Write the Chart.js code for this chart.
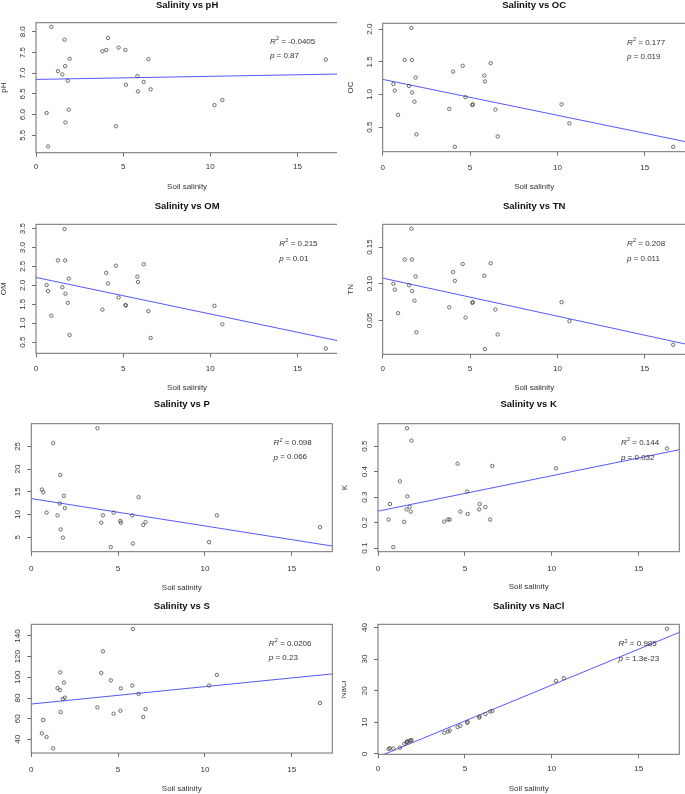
<!DOCTYPE html>
<html>
<head>
<meta charset="utf-8">
<script src="https://cdn.jsdelivr.net/npm/chart.js@4.4.1/dist/chart.umd.min.js"></script>
<style>
  body { margin: 0; background: #fff; width: 685px; height: 794px; position: relative; overflow: hidden; }
  .cell { position: absolute; overflow: hidden; }
  .cell canvas { position: absolute; left: 0; top: 0; }
</style>
</head>
<body>
<script>
// DATA (same 26 soil samples in every panel, sorted by salinity)
const salinity = [0.61, 0.69, 0.88, 1.26, 1.51, 1.64, 1.67, 1.69, 1.82, 1.88, 1.93, 3.81, 4.03, 4.13, 4.58, 4.74, 5.13, 5.16, 5.82, 5.85, 6.18, 6.45, 6.58, 10.24, 10.69, 16.63];
const pH = [6.04, 5.23, 8.12, 7.05, 6.97, 7.81, 7.17, 5.81, 6.82, 6.12, 7.35, 7.53, 7.56, 7.85, 5.72, 7.62, 7.56, 6.72, 6.93, 6.56, 6.79, 7.34, 6.61, 6.23, 6.35, 7.33];
const OC = [1.16, 1.06, 0.69, 1.53, 1.13, 2.02, 1.53, 1.03, 0.89, 1.26, 0.39, 0.78, 1.35, 0.20, 1.44, 0.96, 0.84, 0.85, 1.29, 1.20, 1.48, 0.77, 0.36, 0.85, 0.56, 0.20];
const OM = [2.01, 1.85, 1.20, 2.66, 1.95, 3.49, 2.66, 1.78, 1.54, 2.18, 0.69, 1.36, 2.33, 2.05, 2.52, 1.68, 1.48, 1.47, 2.23, 2.09, 2.56, 1.32, 0.61, 1.46, 0.97, 0.33];
const TN = [0.100, 0.092, 0.060, 0.133, 0.098, 0.175, 0.133, 0.090, 0.077, 0.110, 0.034, 0.068, 0.116, 0.104, 0.127, 0.054, 0.074, 0.075, 0.111, 0.011, 0.128, 0.065, 0.031, 0.075, 0.049, 0.017];
const P = [15.5, 14.9, 10.4, 25.7, 9.8, 12.4, 18.7, 6.7, 4.9, 14.1, 11.4, 29.0, 8.2, 9.8, 2.8, 10.4, 8.6, 8.2, 9.8, 3.6, 13.8, 7.7, 8.3, 3.9, 9.8, 7.2];
const K = [0.212, 0.273, 0.104, 0.362, 0.203, 0.252, 0.570, 0.303, 0.262, 0.243, 0.522, 0.204, 0.212, 0.212, 0.431, 0.243, 0.322, 0.234, 0.252, 0.273, 0.261, 0.212, 0.422, 0.413, 0.530, 0.491];
const S = [45.8, 58.7, 42.3, 31.3, 89.6, 87.7, 104.8, 66.4, 79.0, 94.9, 80.3, 71.0, 104.2, 125.1, 97.1, 64.8, 67.7, 89.3, 92.1, 146.8, 83.9, 61.6, 69.3, 92.1, 102.4, 75.1];
const NaCl = [1.6, 1.8, 1.7, 2.0, 3.2, 3.6, 3.8, 4.0, 4.2, 4.2, 4.4, 6.7, 7.1, 7.4, 8.5, 8.9, 9.9, 10.1, 11.5, 11.9, 12.6, 13.4, 13.6, 23.1, 24.0, 39.6];

const variables = ["pH", "OC", "OM", "TN", "P", "K", "S", "NaCl"];
const series = [pH, OC, OM, TN, P, K, S, NaCl];
const r2Values = ["-0.0405", "0.177", "0.215", "0.208", "0.098", "0.144", "0.0206", "0.985"];
const pValues = ["0.87", "0.019", "0.01", "0.011", "0.066", "0.032", "0.23", "1.3e-23"];
// fitted lines (intercept, slope) as drawn in the figure
const fitIntercept = [6.85, 1.232, 2.21, 0.1077, 13.5, 0.245, 74.2, -0.91];
const fitSlope = [0.0075, -0.055, -0.0966, -0.00518, -0.603, 0.0139, 1.68, 2.27];

// tick labels
const xTicks = [0, 5, 10, 15];
const pHTicks = [5.5, 6.0, 6.5, 7.0, 7.5, 8.0];
const ocTicks = [0.5, 1.0, 1.5, 2.0];
const omTicks = [0.5, 1.0, 1.5, 2.0, 2.5, 3.0, 3.5];
const tnTicks = [0.05, 0.10, 0.15];
const pTicks = [5, 10, 15, 20, 25];
const kTicks = [0.1, 0.2, 0.3, 0.4, 0.5];
const sTicks = [40, 60, 80, 100, 120, 140];
const naclTicks = [0, 10, 20, 30, 40];
const yTicks = [pHTicks, ocTicks, omTicks, tnTicks, pTicks, kTicks, sTicks, naclTicks];
const tickDecimals = [1, 1, 1, 2, 0, 1, 0, 0];

// LAYOUT (page pixels): cell = visible part, box = plot region
const X_MIN = 0, X_MAX = 17.34;
const panelLayout = [
  { cell: [0, 0, 337, 197], box: [36, 22.7, 338.2, 152.7], titleY: 5.5, tickY: 166.7, xTitleY: 187, yTitleX: 4, yRange: [5.08, 8.22], note: [13.42, 7.75, 7.41] },
  { cell: [342, 0, 343, 197], box: [382.7, 23.3, 685.6, 151.7], titleY: 5.5, tickY: 167.7, xTitleY: 187, yTitleX: 351, yRange: [0.125, 2.09], note: [13.98, 1.79, 1.57] },
  { cell: [0, 197, 337, 198], box: [36, 224.3, 338.2, 353.3], titleY: 206, tickY: 368.3, xTitleY: 388, yTitleX: 4, yRange: [0.205, 3.615], note: [13.96, 3.09, 2.71] },
  { cell: [342, 197, 343, 198], box: [382.7, 224.3, 685.6, 354.3], titleY: 206, tickY: 369, xTitleY: 388, yTitleX: 351, yRange: [0.004, 0.181], note: [13.98, 0.154, 0.134] },
  { cell: [0, 395, 342, 200], box: [31.3, 423.7, 332.3, 551.7], titleY: 404.5, tickY: 568.3, xTitleY: 587.7, yTitleX: null, yRange: [1.8, 30.0], note: [13.95, 25.7, 22.6] },
  { cell: [342, 395, 343, 200], box: [378, 423.7, 679.3, 551.7], titleY: 404.5, tickY: 568.3, xTitleY: 586.7, yTitleX: 345, yRange: [0.086, 0.588], note: [13.98, 0.512, 0.455] },
  { cell: [0, 595, 342, 199], box: [31.3, 624.3, 332.3, 753], titleY: 606, tickY: 769.3, xTitleY: 788.3, yTitleX: null, yRange: [26.8, 151.3], note: [13.68, 132.3, 118.5] },
  { cell: [342, 595, 343, 199], box: [378, 624.3, 679.3, 754.3], titleY: 606, tickY: 769, xTitleY: 788.3, yTitleX: 344.2, yRange: [-0.1, 41.0], note: [13.84, 34.7, 30.2] },
];

const FAMILY = "'Liberation Sans', Arial, sans-serif";
const TEXT = "#333";
const AXIS = "#6e6e6e";
const LINE = "rgba(45, 45, 255, 0.8)";
const small = { family: FAMILY, size: 8, lineHeight: 1.2 };
const LH = 8 * 1.2;
const TICK_LEN = 4;

const measure = document.createElement("canvas").getContext("2d");
measure.font = "8px " + FAMILY;

// box, title and R2 / p text
const decoPlugin = (lay, i) => ({
  id: "deco" + i,
  afterDatasetsDraw(chart) {
    const { ctx, chartArea: a, scales } = chart;
    ctx.save();
    ctx.strokeStyle = AXIS;
    ctx.lineWidth = 1;
    ctx.strokeRect(a.left, a.top, a.right - a.left, a.bottom - a.top);

    ctx.fillStyle = "#111";
    ctx.font = "bold 9.5px " + FAMILY;
    ctx.textAlign = "center";
    ctx.textBaseline = "middle";
    ctx.fillText("Salinity vs " + variables[i], (a.left + a.right) / 2, lay.titleY - lay.cell[1]);

    const x0 = scales.x.getPixelForValue(lay.note[0]);
    const yR = scales.y.getPixelForValue(lay.note[1]);
    const yP = scales.y.getPixelForValue(lay.note[2]);
    ctx.fillStyle = TEXT;
    ctx.textAlign = "left";
    ctx.textBaseline = "middle";
    let x = x0;
    ctx.font = "italic 8px " + FAMILY;
    ctx.fillText("R", x, yR);
    x += ctx.measureText("R").width;
    ctx.font = "5.5px " + FAMILY;
    ctx.fillText("2", x + 0.3, yR - 3.2);
    x += ctx.measureText("2").width + 0.3;
    ctx.font = "8px " + FAMILY;
    ctx.fillText(" = " + r2Values[i], x, yR);

    ctx.font = "italic 8px " + FAMILY;
    ctx.fillText("p", x0, yP);
    const px = x0 + ctx.measureText("p").width;
    ctx.font = "8px " + FAMILY;
    ctx.fillText(" = " + pValues[i], px, yP);
    ctx.restore();
  }
});

panelLayout.forEach((lay, i) => {
  const [cx, cy, cw, ch] = lay.cell;
  const canvasW = cw + 12;
  const div = document.createElement("div");
  div.className = "cell";
  div.style.left = cx + "px";
  div.style.top = cy + "px";
  div.style.width = cw + "px";
  div.style.height = ch + "px";
  const canvas = document.createElement("canvas");
  canvas.width = canvasW;
  canvas.height = ch;
  canvas.style.width = canvasW + "px";
  canvas.style.height = ch + "px";
  div.appendChild(canvas);
  document.body.appendChild(div);

  const left = lay.box[0] - cx;
  const top = lay.box[1] - cy;
  const right = cx + canvasW - lay.box[2];
  const bottom = cy + ch - lay.box[3];
  const dec = tickDecimals[i];
  const labels = yTicks[i].map(v => v.toFixed(dec));
  const widest = Math.max(...labels.map(t => measure.measureText(t).width));
  const yPad = 13.3 - TICK_LEN - widest / 2;
  const xPad = lay.tickY - lay.box[3] - TICK_LEN - LH / 2;

  const points = salinity.map((s, k) => ({ x: s, y: series[i][k] }));
  const fit = [X_MIN, X_MAX].map(v => ({ x: v, y: fitIntercept[i] + fitSlope[i] * v }));

  new Chart(canvas, {
    type: "scatter",
    data: {
      datasets: [
        {
          data: points,
          pointStyle: "circle",
          pointRadius: 1.7,
          pointBorderWidth: 0.8,
          pointBorderColor: "#4a4a4a",
          pointBackgroundColor: "rgba(0,0,0,0)",
        },
        {
          data: fit,
          showLine: true,
          borderColor: LINE,
          borderWidth: 1,
          pointRadius: 0,
          fill: false,
        },
      ],
    },
    options: {
      responsive: false,
      animation: false,
      events: [],
      layout: { padding: { top: top, right: right, left: 0, bottom: 0 } },
      plugins: { legend: { display: false }, tooltip: { enabled: false }, title: { display: false } },
      scales: {
        x: {
          type: "linear",
          min: X_MIN,
          max: X_MAX,
          afterFit: (s) => { s.height = bottom; },
          afterBuildTicks: (s) => { s.ticks = xTicks.map(v => ({ value: v })); },
          border: { display: false },
          grid: { drawOnChartArea: false, drawTicks: true, tickLength: TICK_LEN, color: AXIS, lineWidth: 1 },
          ticks: { padding: xPad, font: small, color: TEXT, maxRotation: 0, callback: (v) => String(v) },
          title: { display: true, text: "Soil salinity", font: small, color: TEXT, padding: { top: 0, bottom: cy + ch - lay.xTitleY - LH / 2 } },
        },
        y: {
          type: "linear",
          min: lay.yRange[0],
          max: lay.yRange[1],
          afterFit: (s) => { s.width = left; },
          afterBuildTicks: (s) => { s.ticks = yTicks[i].map(v => ({ value: v })); },
          border: { display: false },
          grid: { drawOnChartArea: false, drawTicks: true, tickLength: TICK_LEN, color: AXIS, lineWidth: 1 },
          ticks: { padding: yPad, font: small, color: TEXT, minRotation: 90, maxRotation: 90, crossAlign: "center", callback: (v) => Number(v).toFixed(dec) },
          title: {
            display: lay.yTitleX !== null,
            text: variables[i],
            font: small,
            color: TEXT,
            padding: { top: lay.yTitleX === null ? 0 : lay.yTitleX - cx - LH / 2, bottom: 0 },
          },
        },
      },
    },
    plugins: [decoPlugin(lay, i)],
  });
});
</script>
</body>
</html>
